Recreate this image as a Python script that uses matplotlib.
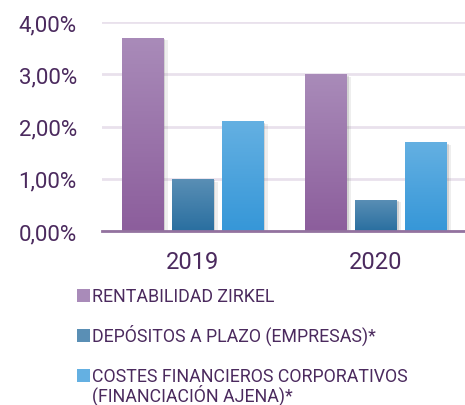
import numpy as np
import matplotlib
matplotlib.use('Agg')
import matplotlib.pyplot as plt
import matplotlib.patheffects as pe
from matplotlib.colors import LinearSegmentedColormap
from matplotlib.patches import Rectangle

plt.rcParams['font.family'] = ['Roboto', 'DejaVu Sans']

years = ['2019', '2020']
labels = ['RENTABILIDAD ZIRKEL',
          'DEPÓSITOS A PLAZO (EMPRESAS)*',
          'COSTES FINANCIEROS CORPORATIVOS\n(FINANCIACIÓN AJENA)*']
rentabilidad = [3.7, 3.0]
depositos = [1.0, 0.6]
costes = [2.1, 1.7]

# gradient (top, bottom) per series
grads = [('#a98bb9', '#8c5e9c'),
         ('#5a8fb5', '#2a6fa0'),
         ('#64b0e2', '#3697d8')]
txt = '#4b2a5e'

W, H = 465, 406
fig = plt.figure(figsize=(W / 100, H / 100), dpi=100)
ax = fig.add_axes([0.219, 0.4286, 0.781, 0.5147])

x = np.arange(len(years))
step = 0.273
width = 0.224
series = [rentabilidad, depositos, costes]
for i, vals in enumerate(series):
    top, bot = grads[i]
    bars = ax.bar(x + (i - 1) * step, vals, width, color=top, zorder=3)
    cmap = LinearSegmentedColormap.from_list('g%d' % i, [bot, top])
    for b in bars:
        b.set_path_effects([
            pe.SimplePatchShadow(offset=(3, -2), shadow_rgbFace='#777777', alpha=0.12),
            pe.SimplePatchShadow(offset=(1.5, -1), shadow_rgbFace='#666666', alpha=0.2),
            pe.Normal()])
        x0, y0 = b.get_x(), b.get_y()
        w, h = b.get_width(), b.get_height()
        grad = np.linspace(0, 1, 100).reshape(-1, 1)
        im = ax.imshow(grad, cmap=cmap, origin='lower', aspect='auto',
                       extent=[x0, x0 + w, y0, y0 + h], zorder=4)
        im.set_clip_path(b)

ax.set_xlim(-0.497, 1.486)
ax.set_ylim(0, 4)
ax.set_yticks([0, 1, 2, 3, 4])
ax.set_yticklabels(['0,00%', '1,00%', '2,00%', '3,00%', '4,00%'])
ax.set_xticks(x)
ax.set_xticklabels(years)
ax.yaxis.grid(True, color='#e9e1ec', linewidth=2)
ax.set_axisbelow(True)
for s in ['top', 'right', 'left']:
    ax.spines[s].set_visible(False)
ax.spines['bottom'].set_color('#93729f')
ax.spines['bottom'].set_linewidth(2)
ax.spines['bottom'].set_zorder(5)
ax.tick_params(axis='y', length=0, pad=18, labelsize=16, labelcolor=txt)
ax.tick_params(axis='x', length=0, pad=14, labelsize=17, labelcolor=txt)

# legend drawn by hand: square + text, multi-line label hangs below first line
row_base = [302, 342, 382]  # text baselines in pixels from top
for lab, (top, bot), rb in zip(labels, grads, row_base):
    fig.patches.append(Rectangle((77 / W, 1 - (rb + 0.5) / H), 13 / W, 13 / H,
                                 transform=fig.transFigure, facecolor=top,
                                 edgecolor='none'))
    for k, line in enumerate(lab.split('\n')):
        fig.text(92 / W, 1 - (rb + 20 * k) / H, line, fontsize=12.8, color=txt,
                 ha='left', va='baseline')

fig.savefig('out.png', dpi=100)
